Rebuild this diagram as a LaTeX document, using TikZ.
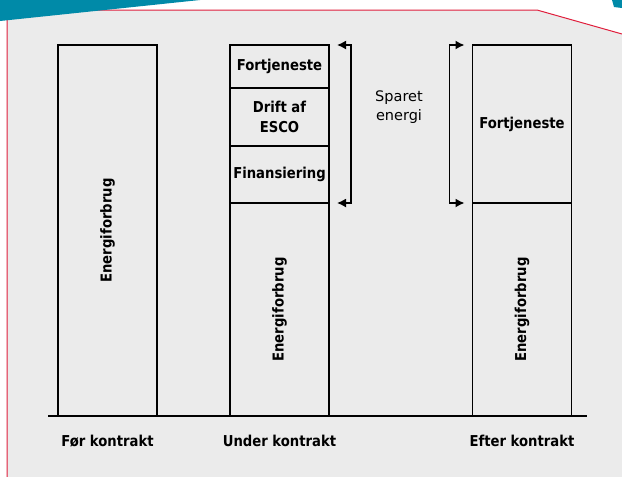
\documentclass[tikz,border=0pt]{standalone}
\usepackage{fontspec}
\setmainfont{DejaVu Sans}
\newfontfamily\barfont{DejaVu Sans}[FakeStretch=0.88]
\usepackage{graphicx}
\usetikzlibrary{arrows.meta,positioning}

\begin{document}
\begin{tikzpicture}[x=1pt,y=-1pt,
  barbox/.style={draw,line width=1.4pt,minimum width=99pt,inner sep=0pt,outer sep=0pt,align=center,font=\barfont\fontsize{15}{20}\selectfont\bfseries},
  barlabel/.style={inner sep=0pt,font=\barfont\fontsize{15}{20}\selectfont\bfseries},
  savebracket/.style={line width=1.5pt,{Latex[length=9pt,width=9pt]}-{Latex[length=9pt,width=9pt]}}]
\definecolor{bggray}{HTML}{EBEBEB}
\definecolor{linered}{HTML}{E01E3C}
\definecolor{cornerteal}{HTML}{008AA8}
\useasboundingbox (0,0) rectangle (622,477);
% baggrund
\fill[bggray] (7,477) -- (7,10) -- (537,10) -- (622,34) -- (622,477) -- cycle;
\draw[linered,line width=1pt] (7,477) -- (7,10) -- (537,10) -- (622,34);
\fill[cornerteal] (0,0) -- (200,0) -- (0,21) -- cycle;
\fill[cornerteal] (612,0) -- (622,0) -- (622,8) -- (614,7) -- cycle;
% soejler
\node[barbox,minimum height=371pt,anchor=north] (foer) at (107.5,45) {\rotatebox{90}{Energiforbrug}};
\node[barbox,minimum height=43pt,anchor=north] (u1) at (279.5,45) {Fortjeneste};
\node[barbox,minimum height=58pt,below=0pt of u1] (u2) {Drift af\\ESCO};
\node[barbox,minimum height=57pt,below=0pt of u2] (u3) {Finansiering};
\node[barbox,minimum height=213pt,below=0pt of u3] (u4) {\rotatebox{90}{Energiforbrug}};
\node[barbox,minimum height=158pt,anchor=north] (e1) at (522,45) {Fortjeneste};
\node[barbox,minimum height=213pt,below=0pt of e1] (e2) {\rotatebox{90}{Energiforbrug}};
% akse
\coordinate (axl) at (48,416);
\coordinate (axr) at (587,416);
\draw[line width=2.2pt] (axl) -- (axr);
% sparet energi
\draw[savebracket] ([xshift=8pt]u1.north east) -- ++(14,0) |- ([xshift=8pt]u4.north east);
\draw[savebracket] ([xshift=-8pt]e1.north west) -- ++(-15,0) |- ([xshift=-8pt]e2.north west);
\node[align=center,font=\fontsize{14.5}{19}\selectfont] (sparet) at (399,107) {Sparet\\energi};
% labels
\coordinate (lblrow) at (0,441);
\foreach \nm/\txt in {foer/Før kontrakt,u4/Under kontrakt,e2/Efter kontrakt}
  {\node[barlabel] (lbl\nm) at (\nm.south |- lblrow) {\txt};}
\end{tikzpicture}
\end{document}
